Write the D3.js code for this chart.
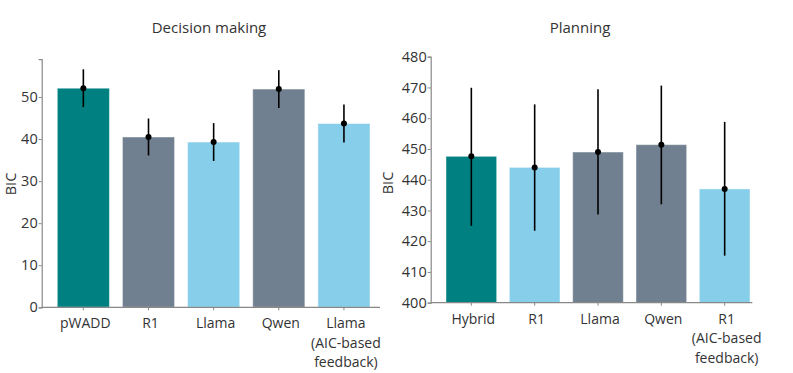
<!DOCTYPE html>
<html>
<head>
<meta charset="utf-8">
<script src="https://cdn.jsdelivr.net/npm/d3@7"></script>
<style>
  body { margin: 0; background: #fff; }
  text { font-family: "Open Sans", "Noto Sans", sans-serif; fill: #333; }
</style>
</head>
<body>
<div id="chart"></div>
<script>
var width = 793;
var height = 373;

// decision making panel
var dmLabels = ["pWADD", "R1", "Llama", "Qwen", "Llama\n(AIC-based\nfeedback)"];
var dmMeans = [52.1, 40.5, 39.3, 51.9, 43.7];
var dmErr = [4.5, 4.4, 4.5, 4.5, 4.5];
var dmColors = ["#008080", "#708090", "#87CEEB", "#708090", "#87CEEB"];
var dmTicks = [0, 10, 20, 30, 40, 50];

// planning panel
var plLabels = ["Hybrid", "R1", "Llama", "Qwen", "R1\n(AIC-based\nfeedback)"];
var plMeans = [447.6, 444.0, 449.0, 451.4, 437.0];
var plLo = [425.0, 423.4, 428.7, 432.0, 415.3];
var plHi = [469.9, 464.5, 469.4, 470.6, 458.8];
var plColors = ["#008080", "#87CEEB", "#708090", "#708090", "#87CEEB"];
var plTicks = [400, 410, 420, 430, 440, 450, 460, 470, 480];

var svg = d3.select("#chart")
  .append("svg")
    .attr("width", width)
    .attr("height", height);

function panel(opt) {
  var g = svg.append("g");
  var x = d3.scaleBand()
    .domain(d3.range(opt.labels.length))
    .range(opt.xRange)
    .paddingInner(0.2)
    .paddingOuter(0);
  var y = d3.scaleLinear()
    .domain(opt.yDomain)
    .range(opt.yRange);

  // bars
  g.selectAll("rect.bar")
    .data(opt.means)
    .enter()
      .append("rect")
        .attr("class", "bar")
        .attr("x", function(d, i) { return x(i); })
        .attr("width", x.bandwidth())
        .attr("y", function(d) { return y(d); })
        .attr("height", function(d) { return y(opt.yDomain[0]) - y(d); })
        .attr("fill", function(d, i) { return opt.colors[i]; })
        .attr("stroke", "rgba(255,255,255,0.45)")
        .attr("stroke-width", 1);

  // error bars
  g.selectAll("line.err")
    .data(opt.means)
    .enter()
      .append("line")
        .attr("class", "err")
        .attr("x1", function(d, i) { return x(i) + x.bandwidth() / 2; })
        .attr("x2", function(d, i) { return x(i) + x.bandwidth() / 2; })
        .attr("y1", function(d, i) { return y(opt.lo[i]); })
        .attr("y2", function(d, i) { return y(opt.hi[i]); })
        .attr("stroke", "#000")
        .attr("stroke-width", 1.6);

  g.selectAll("circle.mean")
    .data(opt.means)
    .enter()
      .append("circle")
        .attr("class", "mean")
        .attr("cx", function(d, i) { return x(i) + x.bandwidth() / 2; })
        .attr("cy", function(d) { return y(d); })
        .attr("r", 3)
        .attr("fill", "#000");

  // y axis
  var yAxis = g.append("g")
    .attr("transform", "translate(" + opt.axisX + ",0)")
    .call(d3.axisLeft(y).tickValues(opt.ticks).tickSize(3).tickPadding(1));
  yAxis.select(".domain").attr("stroke", "#888").attr("stroke-width", 1.2);
  yAxis.selectAll(".tick line").attr("stroke", "#888");
  yAxis.selectAll(".tick text")
    .style("font-size", "14.5px")
    .style("fill", "#333")
    .attr("font-family", null);

  // x axis
  var y0 = y(opt.yDomain[0]);
  g.append("line")
    .attr("x1", opt.axisX)
    .attr("x2", opt.axisEnd)
    .attr("y1", y0)
    .attr("y2", y0)
    .attr("stroke", "#888")
    .attr("stroke-width", 1.2);

  g.selectAll("line.xtick")
    .data(opt.labels)
    .enter()
      .append("line")
        .attr("class", "xtick")
        .attr("x1", function(d, i) { return x(i) + x.bandwidth() / 2; })
        .attr("x2", function(d, i) { return x(i) + x.bandwidth() / 2; })
        .attr("y1", y0)
        .attr("y2", y0 + 3)
        .attr("stroke", "#888");

  var lab = g.selectAll("text.xlab")
    .data(opt.labels)
    .enter()
      .append("text")
        .attr("class", "xlab")
        .attr("text-anchor", "middle")
        .style("font-size", "14px")
        .attr("x", function(d, i) { return x(i) + x.bandwidth() / 2; })
        .attr("y", y0 + 21);
  lab.each(function(d, i) {
    var t = d3.select(this);
    var cx = x(i) + x.bandwidth() / 2 + opt.labShift;
    d.split("\n").forEach(function(s, k) {
      t.append("tspan")
        .attr("x", cx)
        .attr("dy", k === 0 ? 0 : 19.5)
        .text(s);
    });
  });

  // y label
  g.append("text")
    .attr("transform", "translate(" + opt.ylabX + "," + opt.ylabY + ") rotate(-90)")
    .attr("text-anchor", "middle")
    .style("font-size", "14.5px")
    .text("BIC");

  // title
  g.append("text")
    .attr("x", opt.titleX)
    .attr("y", 33)
    .attr("text-anchor", "middle")
    .style("font-size", "15px")
    .text(opt.title);
}

panel({
  labels: dmLabels,
  means: dmMeans,
  lo: dmMeans.map(function(d, i) { return d - dmErr[i]; }),
  hi: dmMeans.map(function(d, i) { return d + dmErr[i]; }),
  colors: dmColors,
  ticks: dmTicks,
  yDomain: [0, 59],
  yRange: [307.3, 59.2],
  xRange: [57.3, 370],
  axisX: 41.7,
  axisEnd: 380,
  labShift: 2,
  ylabX: 16,
  ylabY: 184,
  titleX: 209,
  title: "Decision making"
});

panel({
  labels: plLabels,
  means: plMeans,
  lo: plLo,
  hi: plHi,
  colors: plColors,
  ticks: plTicks,
  yDomain: [400, 480],
  yRange: [302.7, 56.7],
  xRange: [446, 750],
  axisX: 430.7,
  axisEnd: 752.3,
  labShift: 2,
  ylabX: 393,
  ylabY: 183,
  titleX: 580,
  title: "Planning"
});
</script>
</body>
</html>
